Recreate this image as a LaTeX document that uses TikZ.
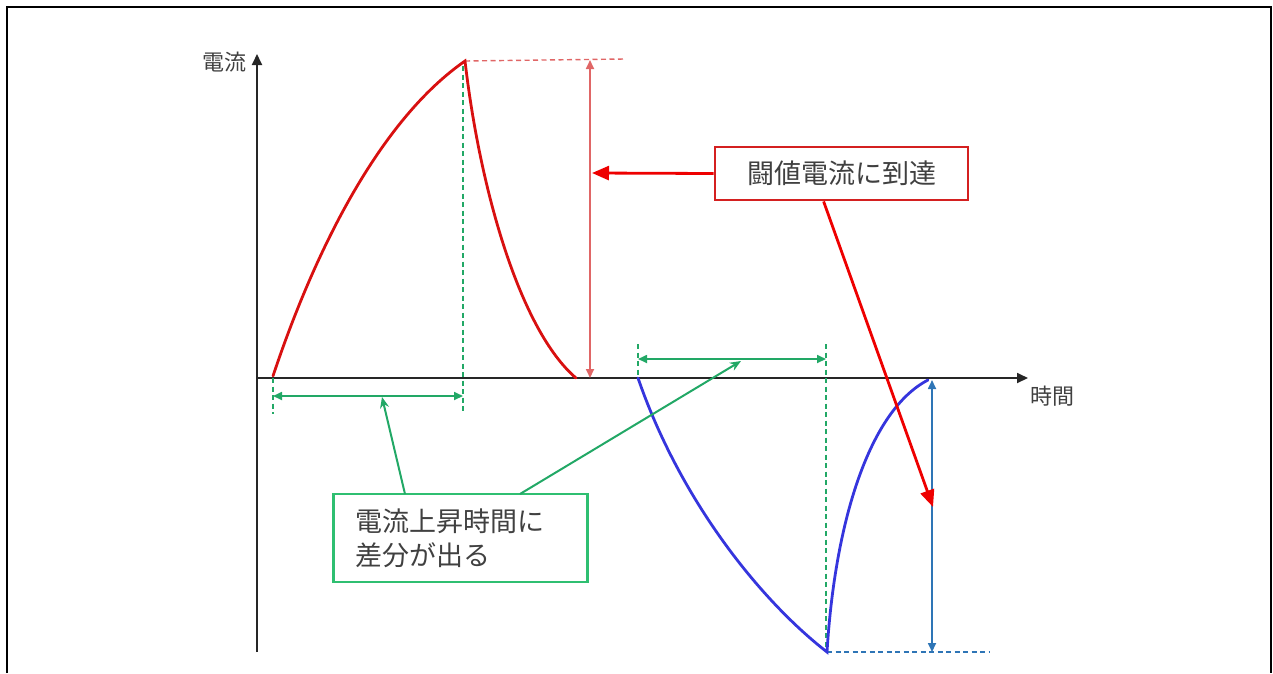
\documentclass[tikz,border=0pt]{standalone}
\usepackage{fontspec}
\setmainfont{Noto Sans CJK JP}
\usetikzlibrary{arrows.meta}
\definecolor{txtgrey}{HTML}{404040}
\definecolor{curvered}{HTML}{D81010}
\definecolor{callred}{HTML}{EE0000}
\definecolor{boxred}{HTML}{D42020}
\definecolor{lightred}{HTML}{E06666}
\definecolor{grn}{HTML}{22A866}
\definecolor{boxgrn}{HTML}{2FBF71}
\definecolor{curveblue}{HTML}{3535DD}
\definecolor{steel}{HTML}{2E75B6}
\tikzset{
  axis/.style={black!85, line width=1.8pt, -{Triangle[length=11pt,width=10pt]}},
  axlabel/.style={text=txtgrey, font=\fontsize{22}{24}\selectfont, inner sep=0pt},
  curve/.style={line width=2.8pt, line cap=round},
  guide/.style={line width=1.4pt, dash pattern=on 5pt off 3.5pt},
  dim/.style={line width=1.7pt, {Triangle[length=9pt,width=8pt]}-{Triangle[length=9pt,width=8pt]}},
  callout/.style={line width=2.8pt, callred, -{Triangle[length=17pt,width=14pt]}},
  gcallout/.style={line width=2pt, grn, -{Stealth[length=11pt,width=9pt]}},
  boxtxt/.style={text=txtgrey, font=\fontsize{27}{34}\selectfont},
}
\begin{document}
\begin{tikzpicture}[x=1pt,y=-1pt]
\useasboundingbox (0,0) rectangle (1273,673);
% frame
\draw[line width=2.4pt] (7,673) -- (7,7) -- (1271,7) -- (1271,673);

% coordinates
\coordinate (O) at (257,378);
\coordinate (ytop) at (257,54);
\coordinate (ybot) at (257,652);
\coordinate (xend) at (1028,378);
\coordinate (r0) at (273,376);
\coordinate (rp) at (465,61);
\coordinate (r1) at (576,378);
\coordinate (b0) at (638,378);
\coordinate (bp) at (827,652);
\coordinate (b1) at (928,380);

% axes
\draw[axis] (ybot) -- (ytop);
\draw[axis] (O) -- (xend);
\node[axlabel, anchor=east] (ylab) at (247,62) {電流};
\node[axlabel, anchor=west] (xlab) at (1030,396) {時間};

% red dashed guides
\coordinate (rdashend) at (625,59);
\draw[guide, lightred] (rp) -- (rdashend);
% green dashed guides
\coordinate (g1t) at (463,66);
\coordinate (g1b) at (463,412);
\coordinate (g0t) at (273,378);
\coordinate (g0b) at (273,414);
\draw[guide, grn] (g1t) -- (g1b);
\draw[guide, grn] (g0t) -- (g0b);
\coordinate (g2t) at (638,344);
\coordinate (g2b) at (638,378);
\coordinate (g3t) at (826,344);
\coordinate (g3b) at (826,650);
\draw[guide, grn] (g2t) -- (g2b);
\draw[guide, grn] (g3t) -- (g3b);
% blue dashed guide
\coordinate (bdashend) at (990,652);
\draw[guide, steel] (bp) -- (bdashend);

% curves
\draw[curve, curvered] (r0) .. controls (315,250) and (380,120) .. (rp)
  .. controls (480,190) and (520,330) .. (r1);
\draw[curve, curveblue] (b0) .. controls (680,500) and (760,600) .. (bp)
  .. controls (835,520) and (870,410) .. (b1);

% dimension arrows
\coordinate (rdt) at (590,60);
\coordinate (rdb) at (590,378);
\draw[dim, lightred] (rdt) -- (rdb);
\coordinate (bdt) at (932,380);
\coordinate (bdb) at (932,652);
\draw[dim, steel] (bdt) -- (bdb);
\coordinate (gd1a) at (273,396);
\coordinate (gd1b) at (463,396);
\draw[dim, grn] (gd1a) -- (gd1b);
\coordinate (gd2a) at (638,359);
\coordinate (gd2b) at (826,359);
\draw[dim, grn] (gd2a) -- (gd2b);

% boxes
\node[boxtxt, draw=boxred, line width=2.8pt, fill=white, minimum width=253pt, minimum height=53pt, inner sep=0pt] (rbox) at (841.5,173.5) {闘値電流に到達};
\node[boxtxt, draw=boxgrn, line width=2.8pt, fill=white, text width=210pt, align=left, inner xsep=22pt, minimum height=88pt] (gbox) at (460.5,538) {電流上昇時間に\\差分が出る};

% callouts
\coordinate (rc1) at (592,173);
\coordinate (rc2) at (933,507);
\draw[callout] (rbox.west) -- (rc1);
\draw[callout] (rbox.south west) ++(110,0) coordinate (rbs) -- (rc2);
\coordinate (gc1) at (382,397);
\coordinate (gc2) at (741,361);
\coordinate (gbs1) at (405,494);
\coordinate (gbs2) at (520,494);
\draw[gcallout] (gbs1) -- (gc1);
\draw[gcallout] (gbs2) -- (gc2);
\end{tikzpicture}
\end{document}
